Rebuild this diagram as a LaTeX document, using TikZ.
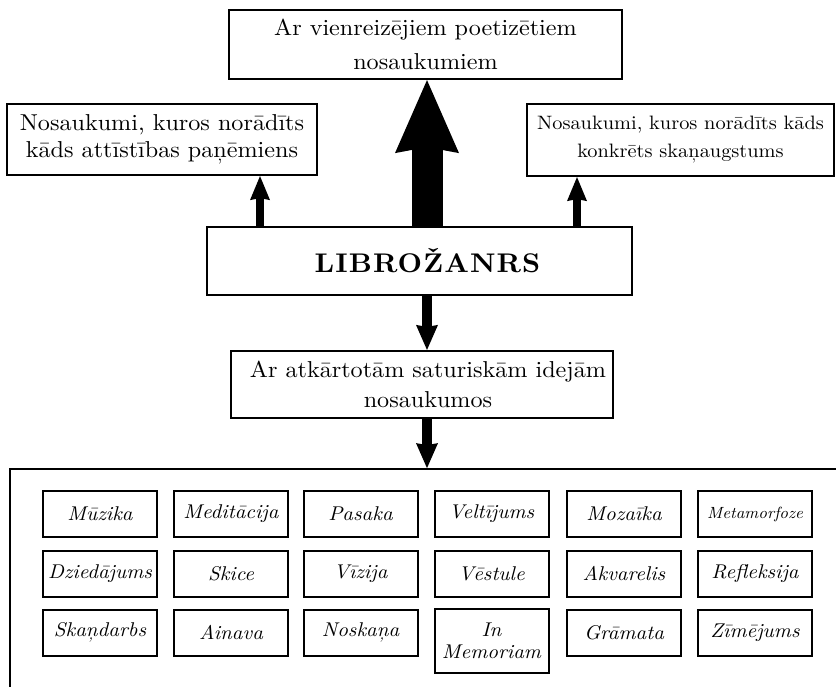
\documentclass[tikz,border=0pt]{standalone}
\usepackage{fontspec}
\setmainfont{lmroman10-regular.otf}[BoldFont=lmroman10-bold.otf, ItalicFont=lmroman10-italic.otf, BoldItalicFont=lmroman10-bolditalic.otf, FakeStretch=1.05]
\usetikzlibrary{arrows.meta}
\begin{document}
\begin{tikzpicture}[x=1pt,y=-1pt,
  box/.style={draw, line width=2.2pt, inner sep=0pt, align=center},
  cell/.style={draw, line width=2pt, minimum width=114pt, minimum height=46pt,
    inner sep=0pt, align=center, font=\fontsize{19.9}{22}\selectfont\itshape},
  thinarrow/.style={line width=8.5pt, -{Stealth[length=24pt,width=20pt,inset=2pt,line width=0pt]}},
  downarrow/.style={line width=10pt, -{Stealth[length=25pt,width=22pt,inset=2pt,line width=0pt]}},
  bigarrow/.style={line width=31pt, -{Stealth[length=73pt,width=64pt,inset=6pt,line width=0pt]}}]
\useasboundingbox (0,0) rectangle (836,686);
\clip (0,0) rectangle (836,686);
% main boxes
\node[box, minimum width=393pt, minimum height=69pt, font=\fontsize{23}{34}\selectfont]
  (top) at (425.5,44.5) {Ar vienreizējiem poetizētiem\\nosaukumiem};
\node[box, minimum width=310pt, minimum height=71pt, font=\fontsize{23}{27}\selectfont]
  (left) at (162,139.5) {Nosaukumi, kuros norādīts\\kāds attīstības paņēmiens};
\node[box, minimum width=307pt, minimum height=72pt, font=\fontsize{19.4}{28}\selectfont]
  (right) at (680.5,140) {Nosaukumi, kuros norādīts kāds\\konkrēts skaņaugstums};
\node[box, minimum width=425pt, minimum height=68pt, font=\fontsize{27}{30}\selectfont\bfseries\addfontfeature{LetterSpace=4}]
  (libro) at (419.5,261) {\hspace*{16pt}LIBROŽANRS};
\node[box, minimum width=382pt, minimum height=67pt, font=\fontsize{23}{30}\selectfont]
  (mid) at (422,384.5) {\hspace*{12pt}Ar atkārtotām saturiskām idejām\\\hspace*{12pt}nosaukumos};
\node[draw, line width=1.8pt, minimum width=850pt, minimum height=251pt, inner sep=0pt]
  (container) at (435,594.5) {};
% arrow x positions
\coordinate (la) at (260,0);
\coordinate (ra) at (577,0);
\coordinate (ca) at (427,0);
\draw[thinarrow] (libro.north -| la) -- (left.south -| la);
\draw[thinarrow] (libro.north -| ra) -- (right.south -| ra);
\draw[bigarrow] (libro.north -| ca) -- (top.south -| ca);
\draw[downarrow] (libro.south -| ca) -- (mid.north -| ca);
\draw[downarrow] (mid.south -| ca) -- (container.north -| ca);
% grid
\node[cell] (c11) at (100,514) {Mūzika};
\node[cell] (c12) at (231,514) {Meditācija};
\node[cell] (c13) at (360.5,514) {Pasaka};
\node[cell] (c14) at (491.5,514) {Veltījums};
\node[cell] (c15) at (624,514) {Mozaīka};
\node[cell, font=\fontsize{16.2}{20}\selectfont\itshape] (c16) at (755,514) {Metamorfoze};
\node[cell] (c21) at (100,573.5) {Dziedājums};
\node[cell] (c22) at (231,573.5) {Skice};
\node[cell] (c23) at (360.5,573.5) {Vīzija};
\node[cell] (c24) at (491.5,573.5) {Vēstule};
\node[cell] (c25) at (624,573.5) {Akvarelis};
\node[cell] (c26) at (755,573.5) {Refleksija};
\node[cell] (c31) at (100,632.5) {Skaņdarbs};
\node[cell] (c32) at (231,632.5) {Ainava};
\node[cell] (c33) at (360.5,632.5) {Noskaņa};
\node[cell, minimum height=64pt, font=\fontsize{19.9}{22}\selectfont\itshape] (c34) at (491.5,641) {In\\Memoriam};
\node[cell] (c35) at (624,632.5) {Grāmata};
\node[cell] (c36) at (755,632.5) {Zīmējums};
\end{tikzpicture}
\end{document}
